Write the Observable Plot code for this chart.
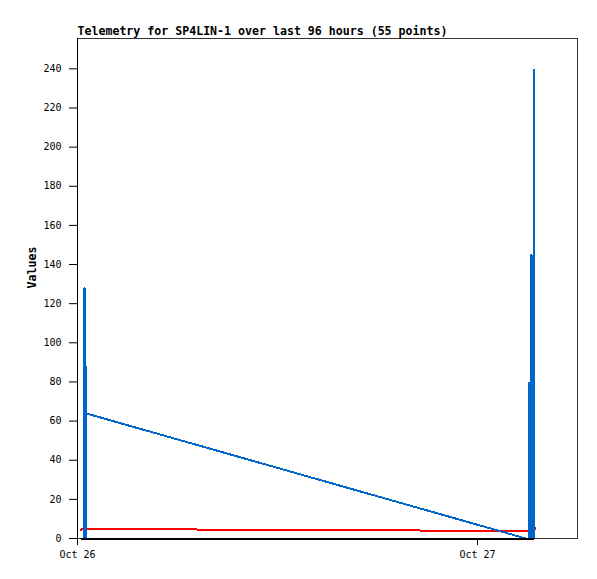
<!DOCTYPE html>
<html><head><meta charset="utf-8">
<script src="https://cdn.jsdelivr.net/npm/d3@7"></script>
<script src="https://cdn.jsdelivr.net/npm/@observablehq/plot@0.6"></script>
<style>body{margin:0;background:#fff}</style>
</head><body><div id="chart"></div>
<script>
const title = "Telemetry for SP4LIN-1 over last 96 hours (55 points)";
const yLabel = "Values";
const xDomain = ["10-26 00:00:00", "10-27 06:00:00"];
const xTickDates = ["10-26 00:00:00", "10-27 00:00:00"];
const xTickLabels = ["Oct 26", "Oct 27"];
const yTicks = [0, 20, 40, 60, 80, 100, 120, 140, 160, 180, 200, 220, 240];
const yMax = 255.5;

const blueTimes = [
  "10-26 00:24:07","10-26 00:24:07","10-26 00:25:12","10-26 00:25:12","10-26 00:28:48","10-26 00:28:48","10-26 00:28:48",
  "10-27 02:54:00",
  "10-27 03:03:36","10-27 03:03:36","10-27 03:03:36",
  "10-27 03:08:17","10-27 03:08:17","10-27 03:08:17",
  "10-27 03:13:19","10-27 03:13:19","10-27 03:14:24","10-27 03:14:24",
  "10-27 03:21:36","10-27 03:21:36","10-27 03:21:36"];
const blueValues = [
  0,128,128,0,0,88,64,
  0,
  0,80,0,
  0,72,0,
  0,145,145,0,
  0,240,0];

const redTimes = ["10-26 00:13:00","10-26 00:15:00","10-27 03:24:00","10-27 03:27:00"];
const redValues = [4.3, 4.86, 3.82, 5.2];

const blackTimes = ["10-26 00:13:00","10-27 03:25:00"];
const blackValues = [0, 0];

const parse = s => new Date("2024-" + s.replace(" ", "T") + "Z");
const rows = (t, v) => t.map((s, i) => ({t: parse(s), v: v[i]}));
const blue = rows(blueTimes, blueValues);
const red = rows(redTimes, redValues);
const black = rows(blackTimes, blackValues);
const tickDates = xTickDates.map(parse);
const font = "'DejaVu Sans Mono', monospace";

const chart = Plot.plot({
  width: 597, height: 579,
  marginLeft: 77, marginRight: 20, marginTop: 38, marginBottom: 41,
  style: {fontFamily: font, fontSize: "10px", background: "#fff", color: "#000"},
  x: {type: "utc", domain: xDomain.map(parse)},
  y: {domain: [0, yMax]},
  marks: [
    Plot.frame({stroke: "#333"}),
    Plot.axisY(yTicks, {tickSize: 8, tickPadding: 8, label: null, stroke: "#000"}),
    Plot.axisX(tickDates, {tickSize: 7, tickPadding: 5, label: null, stroke: "#000",
      tickFormat: d => xTickLabels[tickDates.findIndex(e => +e === +d)]}),
    Plot.ruleX([parse(xDomain[0])], {stroke: "#000"}),
    Plot.line(red, {x: "t", y: "v", stroke: "#ff0000", strokeWidth: 2, shapeRendering: "crispEdges"}),
    Plot.line(blue, {x: "t", y: "v", stroke: "#0066cc", strokeWidth: 2, strokeLinejoin: "miter", strokeLinecap: "butt", shapeRendering: "crispEdges"}),
    Plot.line(black, {x: "t", y: "v", stroke: "#000", strokeWidth: 2, shapeRendering: "crispEdges"}),
    Plot.text([title], {frameAnchor: "top-left", dy: -4, textAnchor: "start", lineAnchor: "bottom", fontWeight: "bold", fontSize: 11.6}),
    Plot.text([yLabel], {frameAnchor: "left", rotate: -90, dx: -45, fontWeight: "bold", fontSize: 11.6})
  ]
});
document.getElementById("chart").appendChild(chart);
</script>
</body></html>
